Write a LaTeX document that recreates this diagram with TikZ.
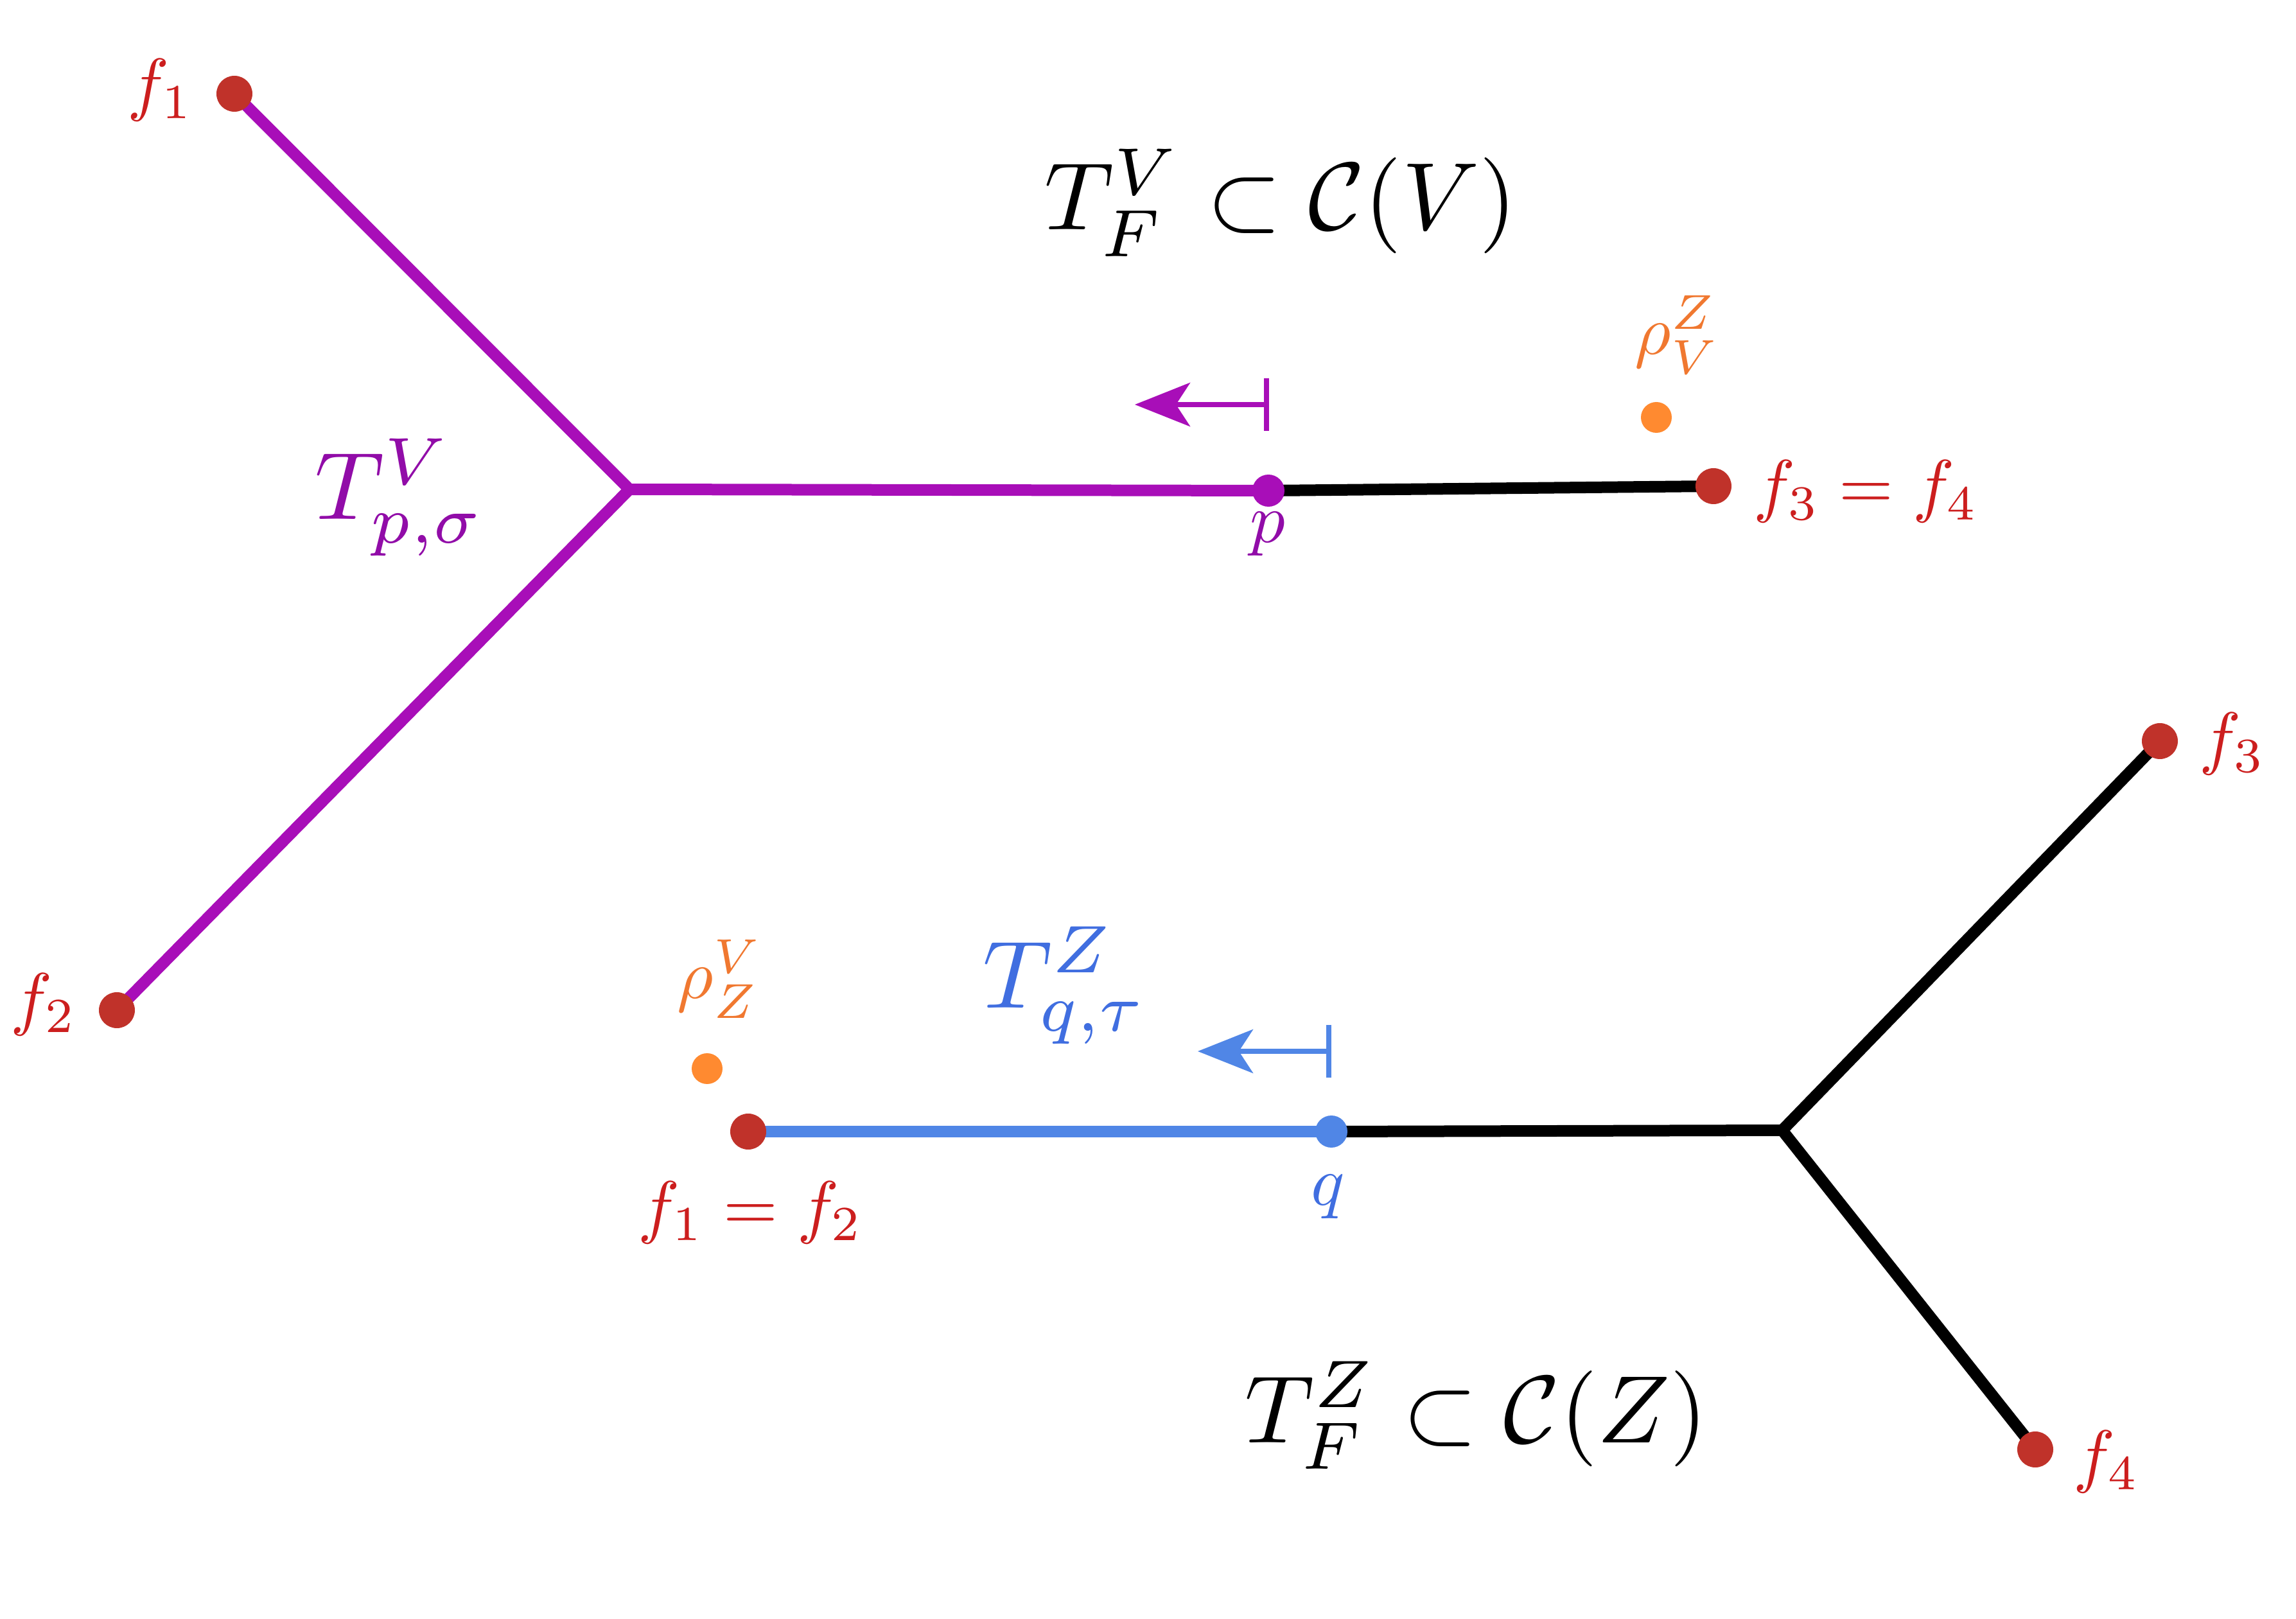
\documentclass[tikz,border=0pt]{standalone}
\usepackage{graphicx}
\usetikzlibrary{arrows.meta,backgrounds}
\definecolor{vpurple}{RGB}{168,14,184}
\definecolor{vpurpletext}{RGB}{145,12,168}
\definecolor{dotred}{RGB}{192,50,42}
\definecolor{labred}{RGB}{204,30,30}
\definecolor{rhoorange}{RGB}{255,138,48}
\definecolor{rhotext}{RGB}{240,120,48}
\definecolor{zblue}{RGB}{80,134,230}
\definecolor{zbluetext}{RGB}{64,110,224}
\newcommand{\smallmath}[1]{\scalebox{3.1}{$#1$}}
\newcommand{\bigmath}[1]{\scalebox{4.25}{$#1$}}
\tikzset{
  edge/.style={line width=0.18cm},
  leaf/.style={circle, fill=dotred, inner sep=0pt, minimum size=0.56cm},
  mid/.style={circle, inner sep=0pt, minimum size=0.5cm},
  rhodot/.style={circle, fill=rhoorange, inner sep=0pt, minimum size=0.48cm},
  flab/.style={text=labred, inner sep=0pt},
  smalllab/.style={inner sep=0pt},
  biglab/.style={inner sep=0pt},
  flow/.style={line width=0.08cm, {Bar[width=0.82cm]}-{Stealth[length=0.86cm,width=0.68cm,inset=0.22cm]}}
}
\begin{document}
\begin{tikzpicture}
\useasboundingbox (0,0) rectangle (35.75,-25.21);
% ---- upper tree T_F^V ----
\node[leaf] (f1) at (3.65,-1.46) {};
\node[leaf] (f2) at (1.82,-15.73) {};
\coordinate (jv) at (9.80,-7.62);
\node[mid, fill=vpurple] (p) at (19.75,-7.64) {};
\node[leaf] (f34) at (26.68,-7.57) {};
\node[rhodot] (rvz) at (25.79,-6.50) {};
\begin{scope}[on background layer]
\draw[edge, vpurple, line join=round] (f1.center) -- (jv) -- (f2.center);
\draw[edge, vpurple] (jv) -- (p.center);
\draw[edge, black] (p.center) -- (f34.center);
\end{scope}
\coordinate (pbar) at (19.76,-6.30);
\coordinate (ptip) at (17.67,-6.30);
\draw[flow, vpurple] (pbar) -- (ptip);
% labels
\node[flab, anchor=base west] (lf1) at (1.98,-1.68) {\smallmath{f_1}};
\node[flab, anchor=base west] (lf2) at (0.16,-15.91) {\smallmath{f_2}};
\node[flab, anchor=base west] (lf34) at (27.30,-7.93) {\smallmath{f_3 = f_4}};
\node[smalllab, text=vpurpletext, anchor=base] (lp) at (19.74,-8.45) {\smallmath{p}};
\node[smalllab, text=rhotext, anchor=base west] (lrvz) at (25.45,-5.52) {\smallmath{\rho_V^Z}};
\node[biglab, text=vpurpletext, anchor=base west] (tpv) at (4.90,-8.09) {\bigmath{T^V_{p,\sigma}}};
\node[biglab, anchor=base west] (tfv) at (16.26,-3.58) {\bigmath{T_F^V \subset \mathcal{C}(V)}};
% ---- lower tree T_F^Z ----
\node[leaf] (g12) at (11.65,-17.62) {};
\node[mid, fill=zblue] (q) at (20.73,-17.62) {};
\coordinate (jz) at (27.75,-17.60);
\node[leaf] (g3) at (33.63,-11.54) {};
\node[leaf] (g4) at (31.69,-22.57) {};
\node[rhodot] (rzv) at (11.01,-16.64) {};
\begin{scope}[on background layer]
\draw[edge, zblue] (g12.center) -- (q.center);
\draw[edge, black] (q.center) -- (jz);
\draw[edge, black, line join=round] (g3.center) -- (jz) -- (g4.center);
\end{scope}
\coordinate (qbar) at (20.73,-16.37);
\coordinate (qtip) at (18.65,-16.37);
\draw[flow, zblue] (qbar) -- (qtip);
\node[flab, anchor=base west] (lg12) at (9.93,-19.15) {\smallmath{f_1 = f_2}};
\node[flab, anchor=base west] (lg3) at (34.24,-11.86) {\smallmath{f_3}};
\node[flab, anchor=base west] (lg4) at (32.28,-23.03) {\smallmath{f_4}};
\node[smalllab, text=zbluetext, anchor=base] (lq) at (20.68,-18.76) {\smallmath{q}};
\node[smalllab, text=rhotext, anchor=base west] (lrzv) at (10.54,-15.55) {\smallmath{\rho_Z^V}};
\node[biglab, text=zbluetext, anchor=base west] (tqz) at (15.30,-15.69) {\bigmath{T^Z_{q,\tau}}};
\node[biglab, anchor=base west] (tfz) at (19.38,-22.46) {\bigmath{T_F^Z \subset \mathcal{C}(Z)}};
\end{tikzpicture}
\end{document}
